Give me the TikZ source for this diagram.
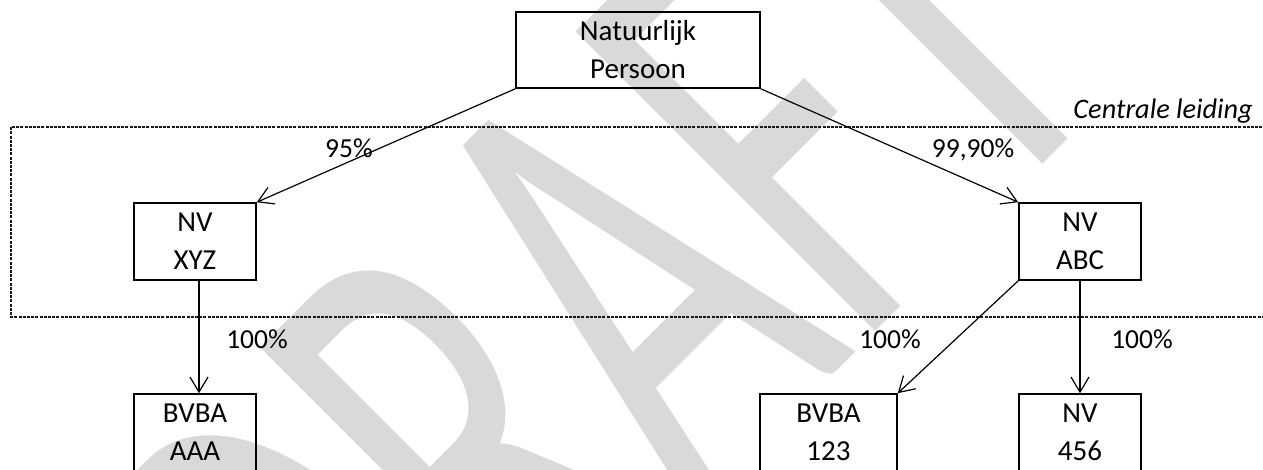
\documentclass[tikz,border=0pt]{standalone}
\usepackage{fontspec}
\setmainfont{Carlito}
\usetikzlibrary{arrows.meta}
\begin{document}
\begin{tikzpicture}[x=1pt,y=-1pt,
  box/.style={draw, line width=1.6pt, minimum width=#1, minimum height=77pt,
    inner sep=0pt, align=center, font=\fontsize{29}{38}\selectfont},
  lbl/.style={anchor=base, inner sep=0pt, font=\fontsize{27.5}{33}\selectfont},
  conn/.style={line width=1.2pt, -{Straight Barb[length=15pt,width=18pt,line width=1.2pt]}},
  region/.style={line width=1.8pt, dash pattern=on 3pt off 1.2pt, black!90},
  wm/.style={anchor=base, rotate=45, yscale=1.65, inner sep=0pt, text=black!15,
    font=\fontsize{400}{400}\selectfont}]
\useasboundingbox (0,0) rectangle (1263,469);
\node[wm] (wm) at (745,462) {DRAFT};
\draw[region] (1275,127) -- (11,127) -- (11,317) -- (1275,317);
\node[box=244pt, minimum height=76pt] (top) at (638,50) {Natuurlijk\\Persoon};
\node[box=122pt] (xyz) at (195,241.5) {NV\\XYZ};
\node[box=122pt] (abc) at (1080,241.5) {NV\\ABC};
\node[box=122pt] (aaa) at (195,432.5) {BVBA\\AAA};
\node[box=137pt] (b123) at (828.5,432.5) {BVBA\\123};
\node[box=122pt] (n456) at (1080,432.5) {NV\\456};
\draw[conn] (top.south west) -- (xyz.north east);
\draw[conn] (top.south east) -- (abc.north west);
\draw[conn] ([xshift=4pt]xyz.south) -- ([xshift=4pt]aaa.north);
\draw[conn] (abc.south west) -- (b123.north east);
\draw[conn] (abc.south) -- (n456.north);
\node[lbl] (p95) at (349,157) {95\%};
\node[lbl] (p999) at (973,157) {99,90\%};
\node[lbl] (p100a) at (257,348) {100\%};
\node[lbl] (p100b) at (890,348) {100\%};
\node[lbl] (p100c) at (1142,348) {100\%};
\node[lbl, anchor=base east, font=\fontsize{28.3}{33}\selectfont\itshape] (cl) at (1253,118) {Centrale leiding};
\end{tikzpicture}
\end{document}
